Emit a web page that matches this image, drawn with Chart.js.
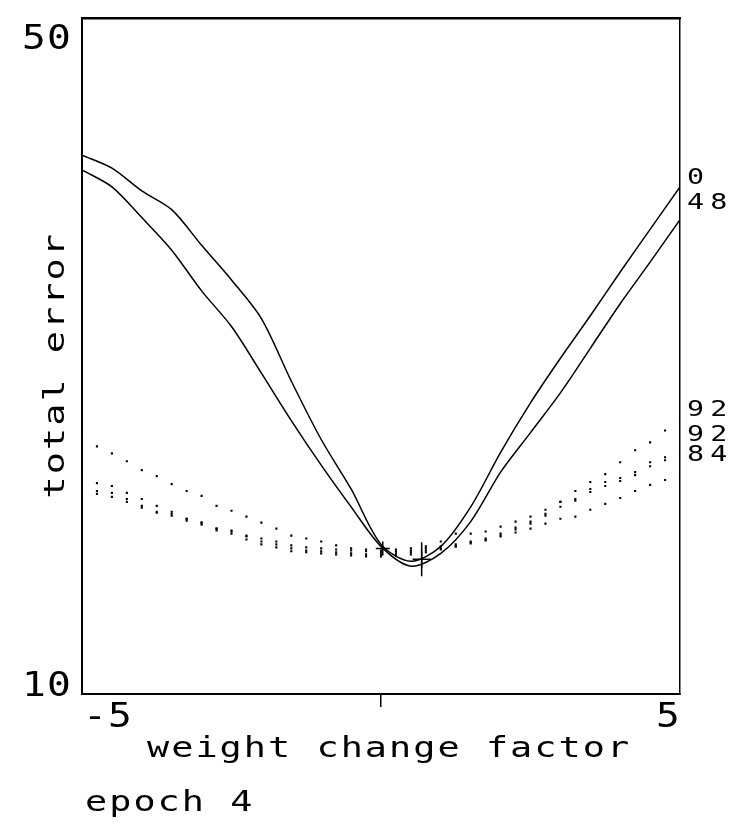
<!DOCTYPE html>
<html><head><meta charset="utf-8">
<script src="https://cdn.jsdelivr.net/npm/chart.js@4.4.1/dist/chart.umd.min.js"></script>
<style>html,body{margin:0;padding:0;background:#fff;}#wrap{width:735px;height:834px;position:relative;}</style>
</head><body><div id="wrap"><canvas id="c"></canvas></div>
<script>
// ---- data ----
const solidX = [-5,-4.5,-4,-3.5,-3,-2.5,-2,-1.5,-1,-0.5,0,0.5,1,1.5,2,2.5,3,3.5,4,4.5,5];
const seriesA = [41.91,41.14,39.79,38.68,36.57,34.52,32.23,28.53,25.07,22.14,18.86,17.86,18.74,21.08,24.31,27.24,29.88,32.40,34.99,37.51,40.03];
const seriesB = [41.03,40.03,38.21,36.28,33.87,31.76,29.00,26.19,23.55,21.08,18.74,17.57,18.33,20.21,23.14,25.48,27.83,30.47,33.11,35.57,38.09];
const dotX = [-5,-4.75,-4.5,-4.25,-4,-3.75,-3.5,-3.25,-3,-2.75,-2.5,-2.25,-2,-1.75,-1.5,-1.25,-1,-0.75,-0.5,-0.25,0,0.25,0.5,0.75,1,1.25,1.5,1.75,2,2.25,2.5,2.75,3,3.25,3.5,3.75,4,4.25,4.5,4.75,5];
const dotted1 = [25.07,24.66,24.25,23.78,23.26,22.90,22.43,22.02,21.73,21.14,20.85,20.50,20.15,19.79,19.38,19.21,19.03,18.80,18.62,18.56,18.50,18.56,18.62,18.74,19.03,19.50,19.50,19.62,19.91,20.21,20.50,20.91,21.38,22.02,22.55,23.02,23.72,24.43,24.90,25.60,26.19];
const dotted2 = [22.67,22.49,22.32,21.91,21.55,21.14,20.79,20.38,20.15,19.79,19.68,19.38,19.21,19.03,18.80,18.68,18.62,18.56,18.50,18.45,18.39,18.45,18.50,18.62,18.74,18.86,19.03,19.21,19.50,19.85,20.21,20.67,21.38,21.55,22.14,22.55,22.79,23.14,23.72,24.02,24.31];
const dotted3 = [22.20,22.02,21.91,21.55,21.14,20.79,20.67,20.38,20.15,19.79,19.62,19.33,19.03,18.86,18.62,18.50,18.45,18.39,18.33,18.27,18.27,18.33,18.39,18.50,18.62,18.74,18.91,19.09,19.33,19.56,19.79,20.09,20.38,20.50,20.91,21.26,21.61,22.02,22.38,22.67,22.96];
const dotted4 = [21.96,21.85,21.67,21.38,21.03,20.73,20.56,20.26,20.03,19.68,19.50,19.15,18.86,18.68,18.45,18.39,18.33,18.27,18.21,18.15,18.15,18.21,18.27,18.39,18.56,18.74,18.97,19.15,19.38,19.74,20.09,20.56,21.09,21.44,21.96,22.32,22.61,22.96,23.49,23.84,24.13];
const markerX = [0.03, 0.68];
const markerY = [18.62, 17.98];
const yTickValues = [50, 10];
const yTickLabels = ['50', '10'];
const xTickValues = [-5, 5];
const xTickLabels = ['-5', '5'];
const rightLabels = ['0', '48', '92', '92', '84'];
const rightLabelValues = [40.67, 39.21, 26.95, 25.48, 24.25];
const xTitle = 'weight change factor';
const yTitle = 'total error';
const caption = 'epoch 4';

const pts = (xs, ys) => xs.map((x, i) => ({x, y: ys[i]}));
const FONT = '"DejaVu Sans Mono", monospace';

const textPlugin = {
  id: 'texts',
  afterDraw(chart) {
    const {ctx, scales: {x, y}, chartArea: ca} = chart;
    function t(str, px, py, align, size, spacing, rot, sx) {
      ctx.save();
      ctx.fillStyle = '#000';
      ctx.font = size + 'px ' + FONT;
      ctx.letterSpacing = spacing + 'px';
      ctx.textAlign = align;
      ctx.textBaseline = 'alphabetic';
      ctx.translate(px, py);
      if (rot) ctx.rotate(rot);
      ctx.scale(sx || 1, 1);
      ctx.fillText(str, 0, 0);
      ctx.restore();
    }
    // y tick labels
    t(yTickLabels[0], ca.left - 10, y.getPixelForValue(yTickValues[0]) + 30, 'right', 33, 1, 0, 1.2);
    t(yTickLabels[1], ca.left - 10, y.getPixelForValue(yTickValues[1]) + 2, 'right', 33, 1, 0, 1.2);
    // x tick labels
    t(xTickLabels[0], x.getPixelForValue(xTickValues[0]) + 1, ca.bottom + 33, 'left', 33, 1, 0, 1.2);
    t(xTickLabels[1], x.getPixelForValue(xTickValues[1]) + 1, ca.bottom + 33, 'right', 33, 1, 0, 1.2);
    // titles
    t(xTitle, 147, ca.bottom + 63, 'left', 29, 1.6, 0, 1.27);
    t(yTitle, ca.left - 18, (ca.top + ca.bottom) / 2 + 9, 'center', 29, 1.6, -Math.PI / 2, 1.27);
    t(caption, 85, ca.bottom + 117, 'left', 29, 1.6, 0, 1.27);
    // right-side series labels
    rightLabels.forEach((s, i) => {
      t(s, ca.right + 7, y.getPixelForValue(rightLabelValues[i]) + 8, 'left', 21, 4.5, 0, 1.35);
    });
  }
};

const solidStyle = {showLine: true, borderColor: '#000', borderWidth: 1.5, pointRadius: 0, tension: 0.3, fill: false};
const dotStyle = {showLine: false, pointRadius: 1.5, pointStyle: 'rect', backgroundColor: '#000', borderWidth: 0};

new Chart(document.getElementById('c'), {
  type: 'scatter',
  data: {
    datasets: [
      {label: 'A', data: pts(solidX, seriesA), ...solidStyle},
      {label: 'B', data: pts(solidX, seriesB), ...solidStyle},
      {label: 'd1', data: pts(dotX, dotted1), ...dotStyle},
      {label: 'd2', data: pts(dotX, dotted2), ...dotStyle},
      {label: 'd3', data: pts(dotX, dotted3), ...dotStyle},
      {label: 'd4', data: pts(dotX, dotted4), ...dotStyle},
      {label: 'min', data: pts(markerX, markerY), showLine: false, pointStyle: 'cross', pointRadius: [7, 9], borderColor: '#000', borderWidth: 1.5},
      {label: 'minv', data: pts(markerX.slice(1), markerY.slice(1)), showLine: false, pointStyle: 'line', rotation: 90, pointRadius: 17, borderColor: '#000', borderWidth: 1.5}
    ]
  },
  options: {
    responsive: true,
    maintainAspectRatio: false,
    animation: false,
    events: [],
    layout: {padding: {left: 82, right: 55, top: 12, bottom: 127}},
    plugins: {legend: {display: false}, tooltip: {enabled: false}},
    scales: {
      x: {
        type: 'linear', min: -5, max: 5, position: 'bottom',
        afterBuildTicks: s => { s.ticks = [{value: -5}, {value: 0}, {value: 5}]; },
        ticks: {display: false},
        grid: {drawOnChartArea: false, drawTicks: true, tickLength: 13, lineWidth: 1.5,
               color: c => (c.tick && c.tick.value === 0) ? '#000' : 'rgba(0,0,0,0)'},
        border: {display: true, color: '#000', width: 2}
      },
      y: {
        type: 'linear', min: 10, max: 50, position: 'left',
        ticks: {display: false},
        grid: {display: false, drawTicks: false, tickLength: 0},
        border: {display: true, color: '#000', width: 2}
      },
      xTop: {
        type: 'linear', min: -5, max: 5, position: 'top',
        ticks: {display: false},
        grid: {display: false, drawTicks: false, tickLength: 0},
        border: {display: true, color: '#000', width: 2.5}
      },
      yRight: {
        type: 'linear', min: 10, max: 50, position: 'right',
        ticks: {display: false},
        grid: {display: false, drawTicks: false, tickLength: 0},
        border: {display: true, color: '#000', width: 1.5}
      }
    }
  },
  plugins: [textPlugin]
});
</script></body></html>
